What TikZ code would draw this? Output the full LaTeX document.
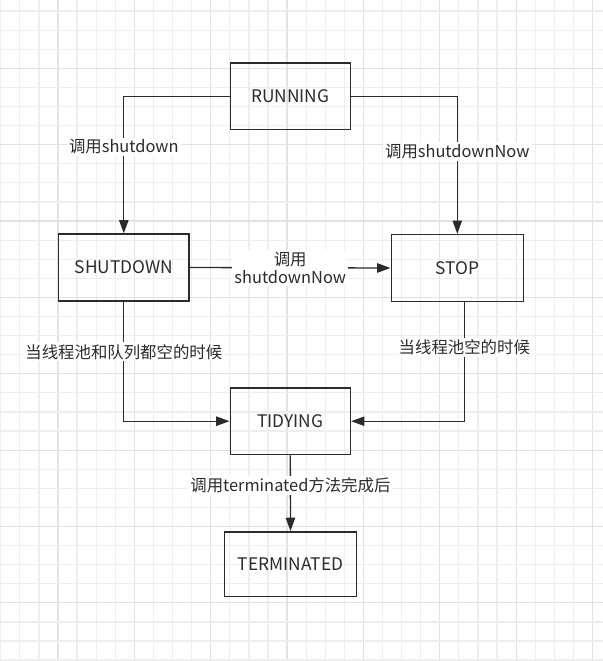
\documentclass[tikz,border=0pt]{standalone}
\usepackage{fontspec}
\setmainfont{Noto Sans CJK SC}
\usetikzlibrary{arrows.meta}
\definecolor{ink}{HTML}{2B2B2B}
\definecolor{gridminor}{HTML}{EEEEEE}
\definecolor{gridmajor}{HTML}{E2E2E2}
\begin{document}
\begin{tikzpicture}[x=0.75pt,y=-0.75pt,
    state/.style={draw=ink,line width=1.2pt,minimum height=50pt,inner sep=0pt,text=ink,font=\fontsize{13pt}{15pt}\selectfont},
    lbl/.style={fill=white,inner sep=1.5pt,text=ink,font=\fontsize{12.3pt}{14pt}\selectfont},
    arr/.style={draw=ink,line width=1pt,-{Triangle[length=10pt,width=7pt]}}]
        % background and grid
        \fill[white] (0,0) rectangle (603,661);
        \useasboundingbox (0,0) rectangle (603,661);
        \foreach \k in {0,...,31} {
            \pgfmathsetmacro{\gx}{0.73+19.09*\k}
            \pgfmathtruncatemacro{\gm}{mod(\k,4)}
            \ifnum\gm=3 \def\gc{gridmajor}\else\def\gc{gridminor}\fi
            \draw[\gc,line width=0.9pt] (\gx,0) -- (\gx,661);
        }
        \foreach \k in {1,...,35} {
            \pgfmathsetmacro{\gy}{-8.06+19.09*\k}
            \pgfmathtruncatemacro{\gm}{mod(\k,4)}
            \ifnum\gm=0 \def\gc{gridmajor}\else\def\gc{gridminor}\fi
            \draw[\gc,line width=0.9pt] (0,\gy) -- (603,\gy);
        }
        % states
        \node[state,minimum width=90pt] (running) at (290.3,96.2) {RUNNING};
        \node[state,minimum width=98pt] (shutdown) at (123.8,267.5) {SHUTDOWN};
        \node[state,minimum width=99pt] (stop) at (457.3,268) {STOP};
        \node[state,minimum width=90pt] (tidying) at (290.3,421.2) {TIDYING};
        \node[state,minimum width=99pt,minimum height=48.5pt] (terminated) at (290.5,564.2) {TERMINATED};
        \coordinate (stopout) at (464.3,301.7);
        % transitions
        \draw[arr] (running.west) -| (shutdown.north) node[lbl,pos=0.685]{调用shutdown};
        \draw[arr] (running.east) -| (stop.north) node[lbl,pos=0.70]{调用shutdownNow};
        \draw[arr] (shutdown.east) -- (stop.west) node[lbl,pos=0.5,align=center]{调用\\shutdownNow};
        \draw[arr] (shutdown.south) |- (tidying.west) node[lbl,pos=0.21]{当线程池和队列都空的时候};
        \draw[arr] (stopout) |- (tidying.east) node[lbl,pos=0.19]{当线程池空的时候};
        \draw[arr] (tidying.south) -- (terminated.north) node[lbl,pos=0.4]{调用terminated方法完成后};
\end{tikzpicture}
\end{document}
